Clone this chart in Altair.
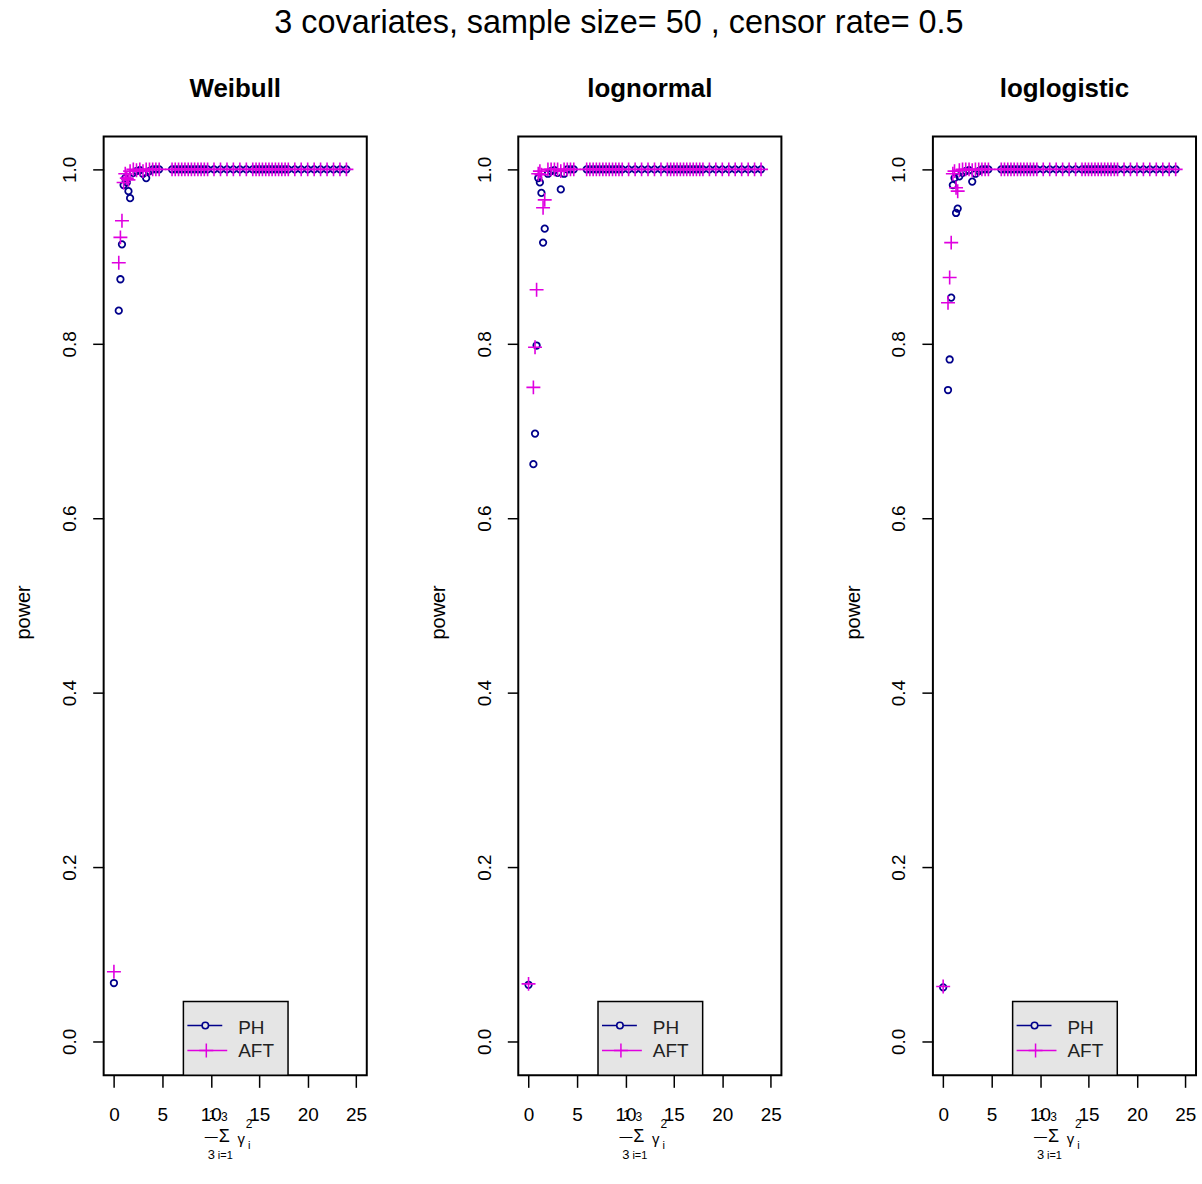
import altair as alt
import pandas as pd

FONT = "Liberation Sans"
PH_COLOR = "#00008B"
AFT_COLOR = "#E000E0"

main_title = "3 covariates, sample size=  50 , censor rate=  0.5"
panel_names = ["Weibull", "lognormal", "loglogistic"]
methods = ["PH", "AFT"]
x_ticks = [0, 5, 10, 15, 20, 25]
y_ticks = [0.0, 0.2, 0.4, 0.6, 0.8, 1.0]

# x = (1/3) * sum(gamma_i^2) for each simulated configuration
gamma_mean_sq = [0.0, 0.5, 0.67, 0.83, 1.0, 1.17, 1.33, 1.5, 1.67, 2.0, 2.33, 2.67, 3.0, 3.33, 3.67, 4.0,
                 4.33, 4.67, 6.0, 6.33, 6.67, 7.0, 7.33, 7.67, 8.0, 8.33, 8.67, 9.0, 9.33, 9.67, 10.33,
                 11.0, 11.67, 12.33, 13.0, 13.67, 14.33, 14.67, 15.0, 15.33, 15.67, 16.0, 16.33, 16.67,
                 17.0, 17.33, 17.67, 18.0, 18.67, 19.33, 20.0, 20.67, 21.33, 22.0, 22.67, 23.33, 24.0]

# power read at the configurations beyond x = 4 (all at the ceiling)
plateau_power = [1.0, 1.0, 1.0, 1.0, 1.0, 1.0, 1.0, 1.0, 1.0, 1.0, 1.0, 1.0, 1.0, 1.0, 1.0, 1.0,
                 1.0, 1.0, 1.0, 1.0, 1.0, 1.0, 1.0, 1.0, 1.0, 1.0, 1.0, 1.0, 1.0, 1.0, 1.0, 1.0,
                 1.0, 1.0, 1.0, 1.0, 1.0, 1.0, 1.0, 1.0, 1.0]

weibull_ph = [0.067, 0.838, 0.874, 0.914, 0.982, 0.990, 0.985, 0.975, 0.967, 0.996, 0.998, 0.999,
              0.995, 0.990, 0.998, 1.000]
weibull_aft = [0.080, 0.893, 0.922, 0.941, 0.985, 0.995, 0.990, 0.988, 0.998, 1.000, 0.999, 1.000,
               0.998, 1.000, 1.000, 1.000]
lognormal_ph = [0.065, 0.662, 0.697, 0.798, 0.990, 0.985, 0.973, 0.916, 0.932, 0.995, 0.998, 0.999,
                0.996, 0.977, 0.995, 1.000]
lognormal_aft = [0.066, 0.750, 0.796, 0.862, 0.995, 0.998, 0.994, 0.956, 0.965, 1.000, 1.000, 1.000,
                 1.000, 0.998, 1.000, 1.000]
loglogistic_ph = [0.062, 0.747, 0.782, 0.853, 0.982, 0.990, 0.950, 0.955, 0.992, 0.996, 0.998, 0.999,
                  0.986, 0.995, 0.998, 1.000]
loglogistic_aft = [0.063, 0.847, 0.876, 0.916, 0.995, 0.998, 0.979, 0.975, 0.999, 1.000, 1.000, 1.000,
                   0.999, 1.000, 1.000, 1.000]

series = {
    "Weibull": (weibull_ph + plateau_power, weibull_aft + plateau_power),
    "lognormal": (lognormal_ph + plateau_power, lognormal_aft + plateau_power),
    "loglogistic": (loglogistic_ph + plateau_power, loglogistic_aft + plateau_power),
}

PLUS = "M-1,0L1,0M0,-1L0,1"
W, H = 264, 942
one = pd.DataFrame({"k": [0]})


def value_text(text, x, y, size, weight="normal"):
    return alt.Chart(one).mark_text(
        text=text, font=FONT, fontSize=size, fontWeight=weight, color="black",
        align="center", baseline="middle"
    ).encode(x=alt.value(x), y=alt.value(y))


def panel(name):
    ph, aft = series[name]
    df = pd.DataFrame({
        "x": gamma_mean_sq + gamma_mean_sq,
        "power": ph + aft,
        "method": [methods[0]] * len(ph) + [methods[1]] * len(aft),
    })
    xenc = alt.X("x:Q", scale=alt.Scale(domain=[-1.06, 26.1], nice=False, zero=False),
                 axis=alt.Axis(values=x_ticks, title=None, grid=False, domain=False,
                               tickColor="black", tickWidth=1.5, tickSize=12,
                               labelFont=FONT, labelFontSize=19, labelColor="black",
                               labelBaseline="alphabetic", labelPadding=33, labelFlush=False))
    yenc = alt.Y("power:Q", scale=alt.Scale(domain=[-0.0389, 1.0377], nice=False, zero=False),
                 axis=alt.Axis(values=y_ticks, format=".1f", title="power", grid=False, domain=False,
                               tickColor="black", tickWidth=1.5, tickSize=11,
                               labelFont=FONT, labelFontSize=19, labelColor="black",
                               labelAngle=-90, labelAlign="center", labelBaseline="alphabetic",
                               labelPadding=17, labelFlush=False,
                               titleFont=FONT, titleFontSize=20, titleFontWeight="normal",
                               titleColor="black", titleAngle=-90, titleAlign="center",
                               titleBaseline="alphabetic", titleX=-74, titleY=477))
    base = alt.Chart(df).encode(x=xenc, y=yenc)
    ph_layer = base.transform_filter(alt.datum.method == "PH").mark_point(
        shape="circle", filled=False, size=42, strokeWidth=1.8, color=PH_COLOR, opacity=1)
    aft_layer = base.transform_filter(alt.datum.method == "AFT").mark_point(
        shape=PLUS, filled=False, size=196, strokeWidth=1.6, color=AFT_COLOR, opacity=1)

    # legend box (bottom of panel)
    box = alt.Chart(one).mark_rect(fill="#e5e5e5", stroke="black", strokeWidth=1.5).encode(
        x=alt.value(80), x2=alt.value(185), y=alt.value(868), y2=alt.value(942))
    ph_line = alt.Chart(one).mark_rule(color=PH_COLOR, strokeWidth=1.5).encode(
        x=alt.value(84), x2=alt.value(119), y=alt.value(892))
    ph_sym = alt.Chart(one).mark_point(shape="circle", filled=True, size=42, strokeWidth=1.6,
                                       stroke=PH_COLOR, fill="#e5e5e5", opacity=1).encode(
        x=alt.value(102), y=alt.value(892))
    aft_line = alt.Chart(one).mark_rule(color=AFT_COLOR, strokeWidth=1.5).encode(
        x=alt.value(84), x2=alt.value(124), y=alt.value(917))
    aft_sym = alt.Chart(one).mark_point(shape=PLUS, filled=False, size=196, strokeWidth=1.5,
                                        color=AFT_COLOR, opacity=1).encode(
        x=alt.value(103), y=alt.value(917))
    ph_txt = alt.Chart(one).mark_text(text="PH", font=FONT, fontSize=19, color="#222222",
                                      align="left", baseline="middle").encode(
        x=alt.value(135), y=alt.value(894))
    aft_txt = alt.Chart(one).mark_text(text="AFT", font=FONT, fontSize=19, color="#222222",
                                       align="left", baseline="middle").encode(
        x=alt.value(135), y=alt.value(918))

    # x-axis label: (1/3) sum_{i=1}^{3} gamma_i^2
    glyphs = [
        value_text("1", 109, 982, 13),
        value_text("3", 121, 984, 12),
        value_text("\u2014", 108, 1004, 13),
        value_text("\u03a3", 121, 1004, 18),
        value_text("\u03b3", 138, 1006, 15),
        value_text("2", 146, 991, 12),
        value_text("i", 146, 1013, 11),
        value_text("3", 108, 1022, 13),
        value_text("i=1", 122, 1023, 11),
    ]

    return alt.layer(ph_layer, aft_layer, box, ph_line, ph_sym, aft_line, aft_sym, ph_txt, aft_txt,
                     *glyphs).properties(
        width=W, height=H,
        title=alt.TitleParams(text=name, font=FONT, fontSize=26, fontWeight="bold", color="black",
                              baseline="alphabetic", offset=14, anchor="middle"))


chart = alt.hconcat(*[panel(n) for n in panel_names], spacing=60).properties(
    title=alt.TitleParams(text=main_title, font=FONT, fontSize=32.5, fontWeight="normal",
                          color="black", anchor="middle", baseline="alphabetic", offset=9, dx=14),
    padding={"left": 13, "top": 5, "right": 5, "bottom": 5},
    background="white",
).configure(font=FONT).configure_view(stroke="black", strokeWidth=2)

chart.save("out.html", embed_options={"renderer": "svg", "actions": False})
